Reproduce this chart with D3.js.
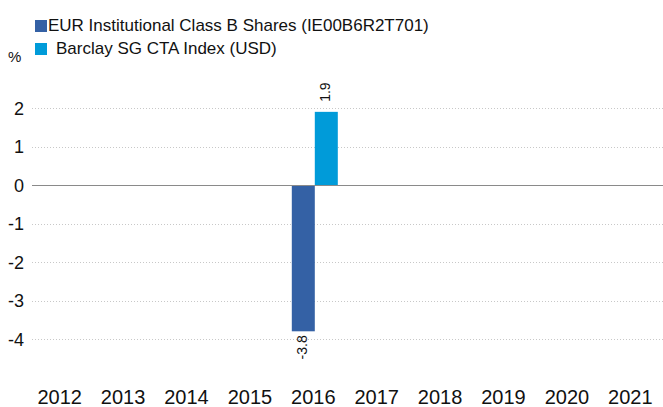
<!DOCTYPE html>
<html>
<head>
<meta charset="utf-8">
<script src="https://cdn.jsdelivr.net/npm/d3@7"></script>
<style>
  html, body { margin: 0; padding: 0; background: #fff; }
  svg { display: block; font-family: "Liberation Sans", Arial, sans-serif; }
</style>
</head>
<body>
<svg id="chart" width="663" height="407"></svg>
<script>
  // data
  const years = ['2012', '2013', '2014', '2015', '2016', '2017', '2018', '2019', '2020', '2021'];
  const seriesNames = ['EUR Institutional Class B Shares (IE00B6R2T701)', 'Barclay SG CTA Index (USD)'];
  const seriesColors = ['#3461a5', '#009bd9'];
  const fundValues = [null, null, null, null, -3.8, null, null, null, null, null];
  const indexValues = [null, null, null, null, 1.9, null, null, null, null, null];
  const yTicks = [-4, -3, -2, -1, 0, 1, 2];

  const svg = d3.select('#chart');
  const width = 663;
  const plotLeft = 32;

  const x = d3.scaleBand().domain(years).range([28, 662]).paddingInner(0).paddingOuter(0);
  const y = d3.scaleLinear().domain([-4, 2]).range([339, 108]);
  const barW = 23;
  const barShift = 1.5;

  // grid
  svg.append('g')
    .selectAll('line')
    .data(yTicks.filter(function (t) { return t !== 0; }))
    .join('line')
    .attr('x1', plotLeft).attr('x2', width)
    .attr('y1', function (d) { return Math.round(y(d)) + 0.5; })
    .attr('y2', function (d) { return Math.round(y(d)) + 0.5; })
    .attr('stroke', '#c8c8c8')
    .attr('stroke-width', 1)
    .attr('stroke-dasharray', '1,2');

  // y tick labels
  svg.append('g')
    .selectAll('text')
    .data(yTicks)
    .join('text')
    .attr('x', 24)
    .attr('y', function (d) { return y(d) + 6.5; })
    .attr('text-anchor', 'end')
    .attr('font-size', 18)
    .attr('fill', '#111')
    .text(function (d) { return String(d); });

  // bars
  const series = [fundValues, indexValues];
  series.forEach(function (vals, si) {
    const g = svg.append('g');
    const data = years.map(function (yr, i) { return { year: yr, v: vals[i] }; })
      .filter(function (d) { return d.v !== null; });
    const barX = function (d) { return x(d.year) + x.bandwidth() / 2 - barW + barShift + si * barW; };
    g.selectAll('rect')
      .data(data)
      .join('rect')
      .attr('x', barX)
      .attr('width', barW)
      .attr('y', function (d) { return Math.min(y(d.v), y(0)); })
      .attr('height', function (d) { return Math.abs(y(d.v) - y(0)); })
      .attr('fill', seriesColors[si]);

    g.selectAll('text')
      .data(data)
      .join('text')
      .attr('transform', function (d) {
        const cx = barX(d) + barW / 2 + 4;
        const cy = d.v >= 0 ? y(d.v) - 10 : y(d.v) + 4;
        return 'translate(' + cx + ',' + cy + ') rotate(-90)';
      })
      .attr('text-anchor', function (d) { return d.v >= 0 ? 'start' : 'end'; })
      .attr('font-size', 14)
      .attr('fill', '#111')
      .text(function (d) { return d.v.toFixed(1); });
  });

  // zero line
  svg.append('line')
    .attr('x1', plotLeft).attr('x2', width)
    .attr('y1', Math.round(y(0)) + 0.5).attr('y2', Math.round(y(0)) + 0.5)
    .attr('stroke', '#8a8a8a')
    .attr('stroke-width', 1.2);

  // x labels
  svg.append('g')
    .selectAll('text')
    .data(years)
    .join('text')
    .attr('x', function (d) { return x(d) + x.bandwidth() / 2; })
    .attr('y', 404)
    .attr('text-anchor', 'middle')
    .attr('font-size', 20)
    .attr('fill', '#111')
    .text(function (d) { return d; });

  // legend
  const legend = svg.append('g');
  legend.append('rect').attr('x', 35).attr('y', 20).attr('width', 12).attr('height', 12).attr('fill', seriesColors[0]);
  legend.append('text').attr('x', 48).attr('y', 31).attr('font-size', 17).attr('fill', '#111').text(seriesNames[0]);
  legend.append('rect').attr('x', 35).attr('y', 43).attr('width', 12).attr('height', 12).attr('fill', seriesColors[1]);
  legend.append('text').attr('x', 56).attr('y', 54).attr('font-size', 17).attr('fill', '#111').text(seriesNames[1]);
  legend.append('text').attr('x', 8).attr('y', 62).attr('font-size', 15).attr('fill', '#111').text('%');
</script>
</body>
</html>
